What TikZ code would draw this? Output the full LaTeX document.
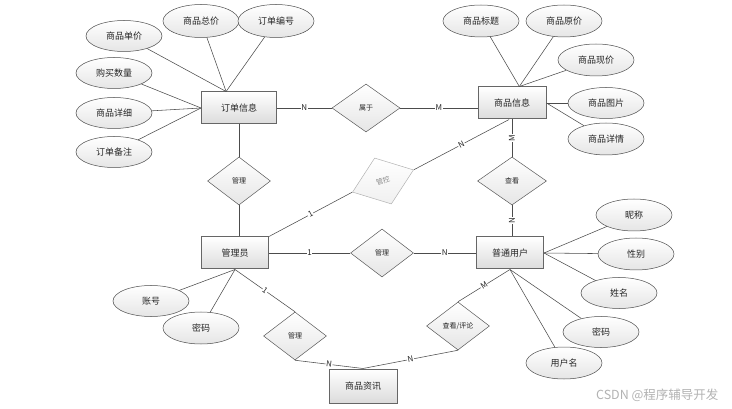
\documentclass[tikz,border=0pt]{standalone}
\usepackage{fontspec}
\setmainfont{Noto Sans CJK SC}
\usepackage{tikz}
\usetikzlibrary{shapes.geometric,positioning}

\begin{document}
\begin{tikzpicture}[x=1pt, y=-1pt]
	\tikzstyle{every node} = [font=\fontsize{9}{10}\selectfont, text=black!85]
	\tikzstyle{entity} = [rectangle, draw = black!60, line width=1pt, top color=white, bottom color=black!14, minimum width=68pt, minimum height=32pt, inner sep=0pt]
	\tikzstyle{attr} = [ellipse, draw = black!70, line width=0.5pt, top color=white, bottom color=black!10, minimum width=76pt, minimum height=31pt, inner sep=0pt]
	\tikzstyle{rel} = [diamond, draw = black!65, line width=0.5pt, top color=white, bottom color=black!10, minimum width=63pt, minimum height=48pt, inner sep=0pt, font=\fontsize{7}{8}\selectfont]
	\tikzstyle{card} = [fill=white, inner sep=0.6pt, font=\fontsize{8}{9}\selectfont]
	\tikzstyle{link} = [draw = black!70, line width=0.55pt]
\useasboundingbox (0,0) rectangle (732,409);
\node[entity, minimum width=75pt] (order) at (239,108) {订单信息};
\node[entity] (goods) at (512,103) {商品信息};
\node[entity, minimum width=67pt] (admin) at (235,253) {管理员};
\node[entity, minimum width=67pt] (user) at (510,253) {普通用户};
\node[entity, minimum height=34pt] (news) at (363,386) {商品资讯};
\node[rel, minimum width=68pt] (belong) at (366,108) {属于};
\node[rel] (rorder) at (239,181) {管理};
\node[rel, minimum width=65pt, minimum height=49pt, rotate=20, draw=black!30, text=black!45, bottom color=black!6] (ctrl) at (383,181) {管控};
\node[rel, minimum width=69pt] (look) at (512,181) {查看};
\node[rel] (ruser) at (382,253) {管理};
\node[rel] (rnews) at (295,336) {管理};
\node[rel] (comment) at (458,326) {查看/评论};
\node[attr] (o1) at (124,36) {商品单价};
\node[attr, minimum height=33pt] (o2) at (201,21) {商品总价};
\node[attr, minimum height=33pt] (o3) at (276,21) {订单编号};
\node[attr] (o4) at (114,73) {购买数量};
\node[attr] (o5) at (114,113) {商品详细};
\node[attr] (o6) at (114,152) {订单备注};
\node[attr, minimum height=32pt] (g1) at (481,21) {商品标题};
\node[attr, minimum height=32pt] (g2) at (564,21) {商品原价};
\node[attr, minimum height=32pt] (g3) at (596,60) {商品现价};
\node[attr] (g4) at (606,103) {商品图片};
\node[attr, minimum height=32pt] (g5) at (606,139) {商品详情};
\node[attr] (m1) at (151,301) {账号};
\node[attr, minimum height=32pt] (m2) at (201,328) {密码};
\node[attr, minimum height=32pt] (u1) at (634,215) {昵称};
\node[attr, minimum height=32pt] (u2) at (636,254) {性别};
\node[attr] (u3) at (619,293) {姓名};
\node[attr] (u4) at (601,332) {密码};
\node[attr, minimum height=32pt] (u5) at (564,363) {用户名};
\node[text=black!30, font=\fontsize{12.5}{13}\selectfont, anchor=east] (mark) at (722,395) {CSDN @程序辅导开发};
	\path[link] (order.128) -- (o1);
	\path[link] (order.128) -- (o2);
	\path[link] (order.128) -- (o3);
	\path[link] (order.west) -- (o4);
	\path[link] (order.west) -- (o5);
	\path[link] (order.west) -- (o6);
	\path[link] (goods.66) -- (g1);
	\path[link] (goods.66) -- (g2);
	\path[link] (goods.66) -- (g3);
	\path[link] (goods.east) -- (g4);
	\path[link] (goods.east) -- (g5);
	\path[link] (admin.south) -- (m1);
	\path[link] (admin.south) -- (m2);
	\path[link] (user.east) -- (u1);
	\path[link] (user.east) -- (u2);
	\path[link] (user.east) -- (u3);
	\path[link] (user.south) -- (u4);
	\path[link] (user.south) -- (u5);
	\path[link] (order.east) -- node[card] (c1) {N} (belong.west);
	\path[link] (belong.east) -- node[card] (c2) {M} (belong.east -| goods.west);
	\path[link] (order.south) -- (rorder.north);
	\path[link] (rorder.south) -- (rorder.south |- admin.north);
	\path[link] (goods.south) -- node[card, rotate=90] (c3) {M} (look.north);
	\path[link] (look.south) -- node[card, rotate=90] (c4) {N} (look.south |- user.north);
	\path[link] (goods.260) -- node[card, sloped] (c5) {N} (ctrl.east);
	\path[link] (ctrl.west) -- node[card, sloped] (c6) {1} (admin.north east);
	\path[link] (admin.east) -- node[card] (c7) {1} (ruser.west);
	\path[link] (ruser.east) -- node[card] (c8) {N} (user.west);
	\path[link] (admin.south) -- node[card, sloped] (c9) {1} (rnews.north);
	\path[link] (rnews.south) -- node[card, sloped] (c10) {N} (news.north);
	\path[link] (comment.south) -- node[card, sloped] (c11) {N} (news.north);
	\path[link] (comment.north) -- node[card, sloped] (c12) {M} (user.south);
    \end{tikzpicture}
\end{document}
